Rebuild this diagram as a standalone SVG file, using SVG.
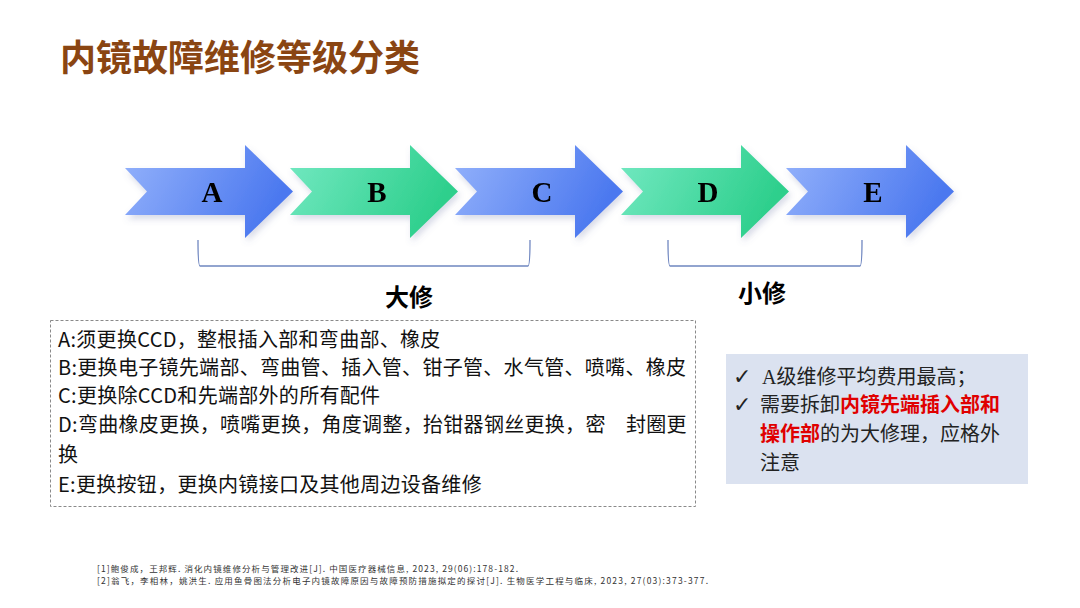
<svg xmlns="http://www.w3.org/2000/svg" width="1080" height="608" viewBox="0 0 1080 608">
<defs>
<linearGradient id="gBlue" x1="0" y1="0" x2="1" y2="0.3">
<stop offset="0" stop-color="#94b2fb"/>
<stop offset="1" stop-color="#4b78ef"/>
</linearGradient>
<linearGradient id="gGreen" x1="0" y1="0" x2="1" y2="0.3">
<stop offset="0" stop-color="#74e9c2"/>
<stop offset="1" stop-color="#2dcf8c"/>
</linearGradient>
<filter id="sh" x="-10%" y="-20%" width="130%" height="150%">
<feDropShadow dx="2" dy="4" stdDeviation="3" flood-color="#6070a0" flood-opacity="0.25"/>
</filter>
<path id="arrow" d="M0,168 L120,168 L120,145 L168,191.5 L120,238 L120,215 L0,215 L22,191.5 Z"/>
</defs>
<style>
.lbl{font-family:"Liberation Serif",serif;font-weight:bold;font-size:29px;fill:#000;text-anchor:middle}
.body{font-family:"Noto Sans CJK SC","Noto Sans",sans-serif;font-size:20px;fill:#111;letter-spacing:0.3px}
.side{font-family:"Noto Sans CJK SC","Noto Sans",sans-serif;font-size:20px;fill:#222}
.chk{font-family:"DejaVu Sans",sans-serif;font-size:22px;fill:#222}
.red{fill:#e00000;font-weight:bold}
.bracket{fill:none;stroke:#6f86c0;stroke-width:1.3}
.ref{font-family:"Noto Sans CJK SC","Liberation Sans",sans-serif;font-size:8.5px;fill:#333}
</style>
<rect width="1080" height="608" fill="#ffffff"/>
<text x="60" y="71" font-family="Noto Sans CJK SC, Noto Sans, sans-serif" font-size="36" font-weight="bold" fill="#8a4512">内镜故障维修等级分类</text>

<g id="arrowA" filter="url(#sh)"><use href="#arrow" x="125" fill="url(#gBlue)"/><text class="lbl" x="212" y="202">A</text></g>
<g id="arrowB" filter="url(#sh)"><use href="#arrow" x="290" fill="url(#gGreen)"/><text class="lbl" x="377" y="202">B</text></g>
<g id="arrowC" filter="url(#sh)"><use href="#arrow" x="455" fill="url(#gBlue)"/><text class="lbl" x="542" y="202">C</text></g>
<g id="arrowD" filter="url(#sh)"><use href="#arrow" x="621" fill="url(#gGreen)"/><text class="lbl" x="708" y="202">D</text></g>
<g id="arrowE" filter="url(#sh)"><use href="#arrow" x="786" fill="url(#gBlue)"/><text class="lbl" x="873" y="202">E</text></g>

<g id="connectors">
<path class="bracket" d="M198,240 Q198,266 200,266 L528,266 Q530,266 530,240"/>
<path class="bracket" d="M668,240 Q668,266 670,266 L860,266 Q862,266 862,240"/>
</g>
<g id="bigRepair"><text x="409" y="306" font-family="Noto Sans CJK SC, sans-serif" font-size="24" font-weight="bold" fill="#000" text-anchor="middle">大修</text></g>
<g id="smallRepair"><text x="762" y="302" font-family="Noto Sans CJK SC, sans-serif" font-size="24" font-weight="bold" fill="#000" text-anchor="middle">小修</text></g>

<g id="detailBox">
<rect x="50.5" y="320.5" width="645" height="186" fill="none" stroke="#8a8a8a" stroke-width="1" stroke-dasharray="3,2"/>
<text class="body" x="58" y="347">A:须更换CCD，整根插入部和弯曲部、橡皮</text>
<text class="body" x="58" y="375">B:更换电子镜先端部、弯曲管、插入管、钳子管、水气管、喷嘴、橡皮</text>
<text class="body" x="58" y="403">C:更换除CCD和先端部外的所有配件</text>
<text class="body" x="58" y="432">D:弯曲橡皮更换，喷嘴更换，角度调整，抬钳器钢丝更换，密　封圈更</text>
<text class="body" x="58" y="462">换</text>
<text class="body" x="58" y="492">E:更换按钮，更换内镜接口及其他周边设备维修</text>
</g>

<g id="noteBox">
<rect x="726" y="354" width="302" height="130" fill="#dbe2f0"/>
<text class="chk" x="733" y="384">✓</text>
<text class="side" x="762" y="384"><tspan font-family="Liberation Serif, serif">A</tspan>级维修平均费用最高；</text>
<text class="chk" x="733" y="412">✓</text>
<text class="side" x="760" y="412">需要拆卸<tspan class="red">内镜先端插入部和</tspan></text>
<text class="side" x="760" y="441"><tspan class="red">操作部</tspan>的为大修理，应格外</text>
<text class="side" x="760" y="470">注意</text>
</g>

<g id="references">
<text class="ref" x="97" y="572" textLength="421" lengthAdjust="spacing">[1]鲍俊成，王邦辉. 消化内镜维修分析与管理改进[J]. 中国医疗器械信息, 2023, 29(06):178-182.</text>
<text class="ref" x="97" y="584" textLength="611" lengthAdjust="spacing">[2]翁飞，李相林，姚洪生. 应用鱼骨图法分析电子内镜故障原因与故障预防措施拟定的探讨[J]. 生物医学工程与临床, 2023, 27(03):373-377.</text>
</g>
</svg>
